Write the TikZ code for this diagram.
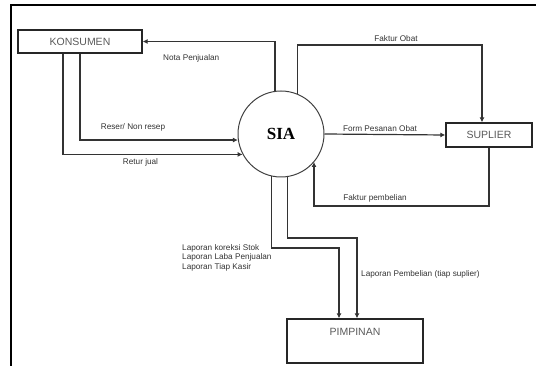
\documentclass[tikz,border=0pt]{standalone}
\usepackage{fontspec}
\setmainfont{Liberation Sans}
\newfontfamily\siafont{Liberation Serif}
\usetikzlibrary{arrows.meta}
\begin{document}
\begin{tikzpicture}[x=1pt,y=-1pt,
    entity/.style={draw=black!85,line width=1.3pt,rectangle,inner sep=0pt,
      font=\fontsize{10.5}{12}\selectfont,text=black!65},
    flow/.style={draw=black!80,line width=1.2pt,-{Latex[length=5pt,width=5pt]}},
    flowlabel/.style={font=\fontsize{8.2}{9}\selectfont,text=black!80,inner sep=0pt}]
  \useasboundingbox (0,0) rectangle (536,366);
  % frame
  \draw[line width=2.2pt] (11,366) -- (11,5) -- (536,5);

  \node[entity,minimum width=124pt,minimum height=23pt] (konsumen) at (80,41.5) {KONSUMEN};
  \node[entity,minimum width=86pt,minimum height=24pt] (suplier) at (489,135) {SUPLIER};
  \node[entity,minimum width=136pt,inner ysep=4pt,text height=13pt,text depth=23pt] (pimpinan) at (355,341) {PIMPINAN};
  \node[circle,draw=black!75,line width=1pt,minimum size=86pt,inner sep=0pt,
    font=\siafont\bfseries\fontsize{17}{18}\selectfont] (sia) at (281,134) {SIA};

  % flows
  \draw[flow] (sia.98) |- (konsumen.east);
  \coordinate (fobat) at (482,45);
  \draw[flow] (sia.68) |- (fobat) -- (fobat |- suplier.north);
  \draw[flow] (sia.east) -- (suplier.west);
  \coordinate (fbeli) at (314,206);
  \draw[flow] (suplier.south) |- (fbeli) -- (fbeli |- sia.-40);
  \draw[flow] (konsumen.south) |- (sia.188);
  \draw[flow] ([xshift=-17pt]konsumen.south) |- (sia.208);
  \coordinate (lkasir) at (339,248);
  \draw[flow] (sia.257) |- (lkasir) -- (lkasir |- pimpinan.north);
  \coordinate (lbeli) at (357,238);
  \draw[flow] (sia.279) |- (lbeli) -- (lbeli |- pimpinan.north);

  % labels
  \node[flowlabel,anchor=west] (lnota) at (163,58.5) {Nota Penjualan};
  \node[flowlabel] (lfobat) at (396,38.5) {Faktur Obat};
  \node[flowlabel] (lform) at (380,128.5) {Form Pesanan Obat};
  \node[flowlabel] (lfbeli) at (375,198.5) {Faktur pembelian};
  \node[flowlabel] (lresep) at (133,127.5) {Reser/ Non resep};
  \node[flowlabel] (lretur) at (140.5,162.5) {Retur jual};
  \node[flowlabel,anchor=north west,align=left,font=\fontsize{8.2}{9.2}\selectfont] (llaporan) at (182,244.5)
    {Laporan koreksi Stok\\Laporan Laba Penjualan\\Laporan Tiap Kasir};
  \node[flowlabel,anchor=west] (lpembelian) at (361,274) {Laporan Pembelian (tiap suplier)};
\end{tikzpicture}
\end{document}
